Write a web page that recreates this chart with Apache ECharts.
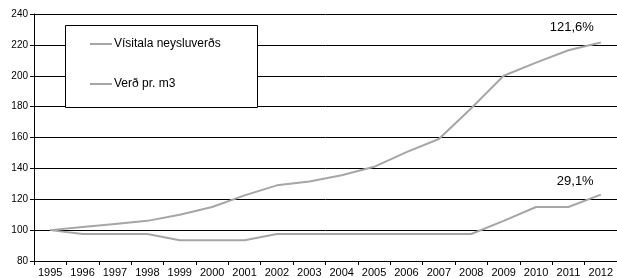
<!DOCTYPE html>
<html>
<head>
<meta charset="utf-8">
<script src="https://cdn.jsdelivr.net/npm/echarts@6/dist/echarts.min.js"></script>
<style>
  html, body { margin: 0; padding: 0; background: #fff; }
  #chart { width: 617px; height: 278px; }
</style>
</head>
<body>
<div id="chart"></div>
<script>
var years = ['1995','1996','1997','1998','1999','2000','2001','2002','2003','2004','2005','2006','2007','2008','2009','2010','2011','2012'];
var visitala = [100, 102, 104, 106, 110, 115, 122.5, 129, 131.5, 135.5, 141, 150.5, 159, 179, 200, 208.5, 216.5, 221.6];
var verd = [100, 97.5, 97.5, 97.5, 93.5, 93.5, 93.5, 97.5, 97.5, 97.5, 97.5, 97.5, 97.5, 97.5, 106, 115, 115, 123];
var endLabels = ['121,6%', '29,1%'];

function endLabel(text, offset){
	return {
		show: true,
		formatter: text,
		distance: 0,
		offset: offset,
		color: '#000',
		fontSize: 13,
		fontFamily: 'Liberation Sans'
	};
}

var dom = document.getElementById('chart');
var myChart = echarts.init(dom, null, { renderer: 'canvas' });

var option = {
	animation: false,
	textStyle: { fontFamily: 'Liberation Sans' },
	grid: { left: 34, top: 14, width: 585, height: 248 },
	graphic: [{
		type: 'rect',
		z: 3,
		shape: { x: 65.5, y: 25.5, width: 192, height: 82 },
		style: { fill: '#fff', stroke: '#000', lineWidth: 1 }
	}],
	legend: {
		z: 10,
		orient: 'vertical',
		left: 90,
		top: 38,
		padding: 0,
		itemGap: 28,
		icon: 'rect',
		itemWidth: 22,
		itemHeight: 2,
		textStyle: { fontSize: 12, color: '#000', padding: [0, 0, 0, -3] },
		data: ['Vísitala neysluverðs', 'Verð pr. m3']
	},
	xAxis: {
		type: 'category',
		data: years,
		boundaryGap: true,
		axisLine: { lineStyle: { color: '#000', width: 1 } },
		axisTick: { show: true, length: 4, lineStyle: { color: '#000' } },
		axisLabel: { color: '#000', fontSize: 11, margin: 6 }
	},
	yAxis: {
		type: 'value',
		min: 80,
		max: 240,
		interval: 20,
		axisLine: { show: true, lineStyle: { color: '#000', width: 1 } },
		axisTick: { show: true, length: 4, lineStyle: { color: '#000' } },
		axisLabel: { color: '#000', fontSize: 10, margin: 6 },
		splitLine: { lineStyle: { color: '#000', width: 1 } }
	},
	series: [
		{
			name: 'Vísitala neysluverðs',
			type: 'line',
			data: visitala,
			symbol: 'none',
			color: '#a6a6a6',
			lineStyle: { color: '#a6a6a6', width: 2 },
			endLabel: endLabel(endLabels[0], [-51, -15])
		},
		{
			name: 'Verð pr. m3',
			type: 'line',
			data: verd,
			symbol: 'none',
			color: '#a6a6a6',
			lineStyle: { color: '#a6a6a6', width: 2 },
			endLabel: endLabel(endLabels[1], [-44, -13])
		}
	]
};

myChart.setOption(option);
window.addEventListener('resize', myChart.resize);
</script>
</body>
</html>
